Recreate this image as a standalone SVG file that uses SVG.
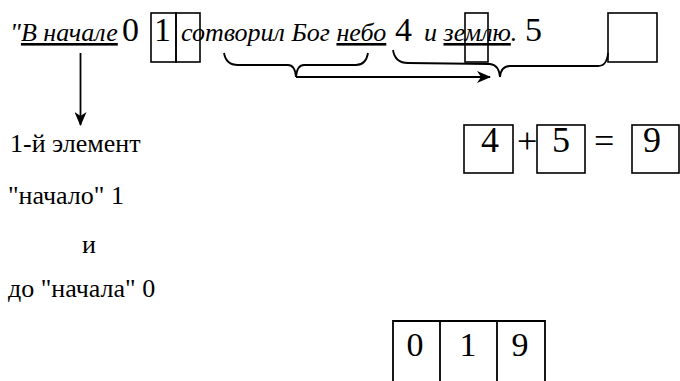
<svg xmlns="http://www.w3.org/2000/svg" width="680" height="381" viewBox="0 0 680 381">
<defs>
<style>
.t{font-family:"Liberation Serif","Times New Roman",serif;fill:#000}
.it{font-style:italic;font-size:26px}
.big{font-size:34px}
.mid{font-size:36px}
.lt{font-size:26px}
.u{text-decoration:underline}
.box{fill:none;stroke:#000;stroke-width:1.6}
.ln{fill:none;stroke:#000;stroke-width:1.8}
</style>
<marker id="ah" viewBox="0 0 14 12" refX="13" refY="6" markerWidth="14" markerHeight="12" markerUnits="userSpaceOnUse" orient="auto">
<path d="M0,0 L14,6 L0,12 L4,6 Z" fill="#000"/>
</marker>
</defs>
<rect width="680" height="381" fill="#fff"/>
<g id="sentence" font-family="Liberation Serif, serif">
<text class="t it" x="10" y="41">"<tspan class="u">В начале</tspan></text>
<text class="t big" x="122" y="41">0</text>
<text class="t big" x="154" y="41">1</text>
<text class="t it" x="181" y="41">сотворил Бог <tspan class="u">небо</tspan></text>
<text class="t big" x="395" y="41">4</text>
<text class="t it" x="424" y="41">и <tspan class="u">землю</tspan>.</text>
<text class="t big" x="525" y="41">5</text>
</g>
<g id="box-top-1"><rect class="box" x="151" y="13" width="25" height="49"/></g>
<g id="box-top-2"><rect class="box" x="176" y="13" width="24" height="49"/></g>
<g id="box-top-3"><rect class="box" x="465" y="13" width="23" height="49"/></g>
<g id="box-top-4"><rect class="box" x="608" y="13" width="49" height="49"/></g>
<g id="connectors">
<path class="ln" d="M224,53 Q226,65 238,65 L288,65 Q295,65 296,77 Q297,65 304,65 L356,65 Q366,65 368,53"/>
<path class="ln" d="M393,50 Q395,63 408,63 L490,64 Q499,65 500,77 Q501,66 510,66 L598,66 Q607,66 608,53"/>
<path class="ln" d="M296,77 L490,77" marker-end="url(#ah)"/>
<path class="ln" d="M80.5,53 L80.5,125" marker-end="url(#ah)"/>
</g>
<g id="left-notes" font-family="Liberation Serif, serif">
<text class="t lt" x="10" y="152">1-й элемент</text>
<text class="t lt" x="8" y="204">"начало" 1</text>
<text class="t lt" x="82" y="253">и</text>
<text class="t lt" x="8" y="297">до "начала" 0</text>
</g>
<g id="sum" font-family="Liberation Serif, serif">
<rect class="box" x="464" y="125" width="49" height="48"/>
<text class="t mid" x="481" y="152">4</text>
<text class="t mid" x="517" y="153">+</text>
<rect class="box" x="537" y="125" width="48" height="48"/>
<text class="t mid" x="552" y="152">5</text>
<text class="t mid" x="594" y="153">=</text>
<rect class="box" x="632" y="125" width="47" height="48"/>
<text class="t mid" x="643" y="152">9</text>
</g>
<g id="table" font-family="Liberation Serif, serif">
<path class="ln" d="M393,381 L393,321 L545,321 L545,381 M440,321 L440,381 M497,321 L497,381"/>
<text class="t big" x="415" y="356" text-anchor="middle">0</text>
<text class="t big" x="468" y="356" text-anchor="middle">1</text>
<text class="t big" x="520" y="356" text-anchor="middle">9</text>
</g>
</svg>
